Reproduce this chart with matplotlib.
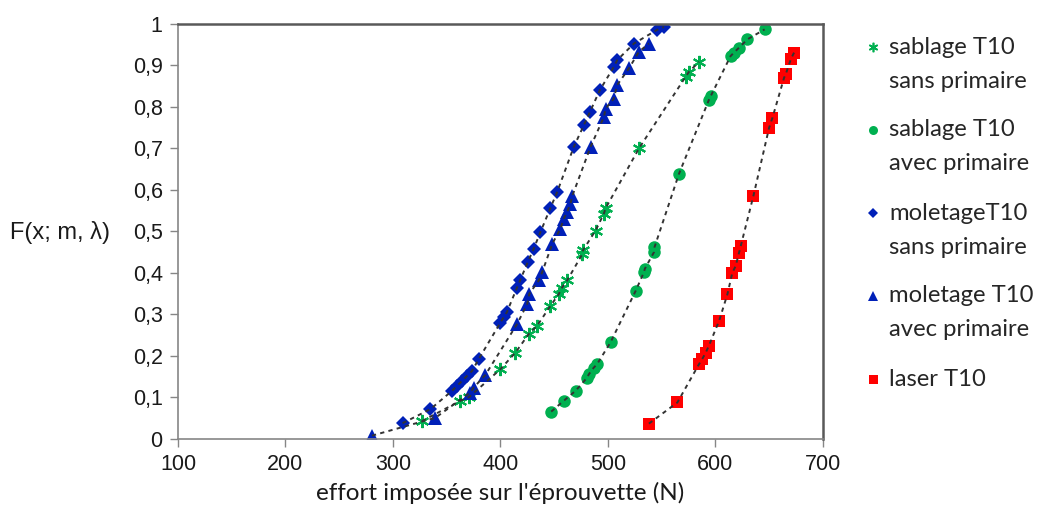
import matplotlib
matplotlib.use("Agg")
import matplotlib.pyplot as plt
from matplotlib.lines import Line2D

# sablage T10 sans primaire
sab_sans_x = [327, 362.8, 371, 400, 414, 426.5, 434.3, 446.7, 454.4, 457.5, 462.2,
              476.2, 477, 488.6, 496.4, 498, 529, 572.5, 575.7, 585]
sab_sans_y = [0.043, 0.092, 0.101, 0.168, 0.208, 0.253, 0.273, 0.321, 0.349, 0.365, 0.382,
              0.445, 0.455, 0.502, 0.543, 0.556, 0.700, 0.873, 0.885, 0.909]

# sablage T10 avec primaire
sab_avec_x = [447.4, 459, 470, 480.9, 482.4, 487, 490, 502.6, 526, 533.7, 534.5,
              543, 543.5, 566.3, 594.3, 595.8, 614.4, 617.5, 622.2, 630, 646]
sab_avec_y = [0.066, 0.092, 0.116, 0.148, 0.156, 0.172, 0.180, 0.233, 0.357, 0.402, 0.410,
              0.450, 0.462, 0.639, 0.818, 0.826, 0.923, 0.931, 0.943, 0.963, 0.987]

# moletage T10 sans primaire
mol_sans_x = [309, 335, 355, 359.7, 364.4, 369, 373.7, 380, 400, 403, 406, 415.6, 418.7,
              425.5, 431, 437.4, 446.7, 452.9, 468.4, 477.7, 483.4, 492.5, 505.7, 508.8,
              524.4, 546, 552.3]
mol_sans_y = [0.038, 0.072, 0.116, 0.128, 0.140, 0.152, 0.164, 0.193, 0.280, 0.293, 0.305,
              0.365, 0.384, 0.426, 0.458, 0.499, 0.557, 0.595, 0.704, 0.756, 0.788, 0.840,
              0.897, 0.913, 0.953, 0.986, 0.993]

# moletage T10 avec primaire
mol_avec_x = [280.5, 339.5, 372, 375.2, 386, 415.6, 425, 427, 435.8, 439, 448.3, 456,
              459.1, 462.2, 465.3, 466.9, 484, 496.4, 498, 505.6, 508.8, 519.7, 529, 538.3]
mol_avec_y = [0.008, 0.051, 0.112, 0.124, 0.154, 0.277, 0.325, 0.350, 0.382, 0.402, 0.470,
              0.507, 0.531, 0.547, 0.567, 0.585, 0.704, 0.776, 0.796, 0.820, 0.853, 0.893,
              0.933, 0.953]

# laser T10
laser_x = [538.3, 564.8, 584.9, 588, 591.2, 594.2, 603.7, 611.4, 616, 619.1, 622.2, 623.8,
           635.6, 650.2, 653.3, 664.2, 665.7, 670.4, 673.4]
laser_y = [0.037, 0.088, 0.180, 0.193, 0.208, 0.225, 0.285, 0.349, 0.401, 0.417, 0.449,
           0.465, 0.586, 0.750, 0.774, 0.871, 0.879, 0.915, 0.931]

labels = ["sablage T10\nsans primaire", "sablage T10\navec primaire",
          "moletageT10\nsans primaire", "moletage T10\navec primaire", "laser T10"]

green = "#00B050"
blue = "#0020B8"
red = "#FF0000"

W, H = 1038, 515
fig = plt.figure(figsize=(W / 100, H / 100), dpi=100)
ax = fig.add_axes([0.1715, 0.1476, 0.621, 0.8058])

series = [
    (sab_sans_x, sab_sans_y, (6, 2, 0), green, 9.5, 1.5),
    (sab_avec_x, sab_avec_y, "o", green, 9, 0),
    (mol_sans_x, mol_sans_y, "D", blue, 7, 0),
    (mol_avec_x, mol_avec_y, "^", blue, 9.5, 0),
    (laser_x, laser_y, "s", red, 9, 0),
]

for (xs, ys, mk, col, ms, mew), lab in zip(series, labels):
    ax.plot(xs, ys, linestyle="none", marker=mk, color=col, markersize=ms,
            markeredgewidth=mew, markeredgecolor=col, zorder=2)
    # dashed curve through the points
    ax.plot(xs, ys, linestyle=(0, (2.2, 2.2)), color="#333333", linewidth=1.4, zorder=3)

ax.set_xlim(100, 700)
ax.set_ylim(0, 1)
ax.set_xticks(range(100, 701, 100))
ax.set_yticks([i / 10 for i in range(11)])
ax.set_yticklabels(["0"] + ["0,%d" % i for i in range(1, 10)] + ["1"])

for t in ax.get_xticklabels() + ax.get_yticklabels():
    t.set_fontfamily("Liberation Sans")
    t.set_fontsize(15.5)
    t.set_color("#1a1a1a")
ax.tick_params(direction="out", length=6, width=1, color="#868686", pad=5)

for side in ["left", "bottom"]:
    ax.spines[side].set_color("#868686")
    ax.spines[side].set_linewidth(1.2)
for side in ["top", "right"]:
    ax.spines[side].set_color("#595959")
    ax.spines[side].set_linewidth(1.8)

ax.set_xlabel("effort imposée sur l'éprouvette (N)", family="Lato", fontsize=17.5,
              color="#1a1a1a", labelpad=5)
fig.text(0.106, 0.549, "F(x; m, λ)", family="Liberation Sans", fontsize=17,
         color="#1a1a1a", ha="right", va="center")

# legend drawn by hand: marker beside the first line of each label
for i, ((xs, ys, mk, col, ms, mew), lab) in enumerate(zip(series, labels)):
    y0 = 47 + 83 * i
    fig.add_artist(Line2D([873 / W], [1 - y0 / H], transform=fig.transFigure,
                          linestyle="none", marker=mk, color=col, markersize=ms * 0.72,
                          markeredgewidth=mew * 0.8, markeredgecolor=col))
    for j, line in enumerate(lab.split("\n")):
        fig.text(889 / W, 1 - (y0 + 34 * j) / H, line, family="Lato", fontsize=17.2,
                 color="#262626", ha="left", va="center")

fig.savefig("out.png", dpi=100)
